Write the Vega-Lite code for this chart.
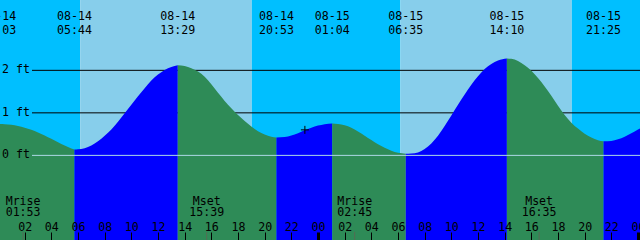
{
  "$schema": "https://vega.github.io/schema/vega-lite/v6.json",
  "width": 640,
  "height": 240,
  "padding": 0,
  "autosize": "none",
  "config": {
    "view": {"stroke": null},
    "axis": {"labelOverlap": false, "labelSeparation": 0},
    "text": {"font": "DejaVu Sans Mono", "fontSize": 11.6, "color": "black"}
  },
  "datasets": {
    "sun": [
      {"start": "2023-08-13T19:02:00", "end": "2023-08-14T06:10:00", "period": "night"},
      {"start": "2023-08-14T06:10:00", "end": "2023-08-14T19:02:00", "period": "day"},
      {"start": "2023-08-14T19:02:00", "end": "2023-08-15T06:11:00", "period": "night"},
      {"start": "2023-08-15T06:11:00", "end": "2023-08-15T19:02:00", "period": "day"},
      {"start": "2023-08-15T19:02:00", "end": "2023-08-16T06:11:00", "period": "night"}
    ],
    "levels": [
      {"level": 2, "label": "2 ft"},
      {"level": 1, "label": "1 ft"},
      {"level": 0, "label": "0 ft"}
    ],
    "tide": [
      {"t": "2023-08-14T00:03:00", "h": 0.74, "dir": "falling", "seg": "A"},
      {"t": "2023-08-14T00:30:00", "h": 0.735, "dir": "falling", "seg": "A"},
      {"t": "2023-08-14T01:00:00", "h": 0.72, "dir": "falling", "seg": "A"},
      {"t": "2023-08-14T01:30:00", "h": 0.69, "dir": "falling", "seg": "A"},
      {"t": "2023-08-14T02:00:00", "h": 0.65, "dir": "falling", "seg": "A"},
      {"t": "2023-08-14T02:30:00", "h": 0.60, "dir": "falling", "seg": "A"},
      {"t": "2023-08-14T03:00:00", "h": 0.54, "dir": "falling", "seg": "A"},
      {"t": "2023-08-14T03:30:00", "h": 0.47, "dir": "falling", "seg": "A"},
      {"t": "2023-08-14T04:00:00", "h": 0.39, "dir": "falling", "seg": "A"},
      {"t": "2023-08-14T04:30:00", "h": 0.31, "dir": "falling", "seg": "A"},
      {"t": "2023-08-14T05:00:00", "h": 0.23, "dir": "falling", "seg": "A"},
      {"t": "2023-08-14T05:30:00", "h": 0.16, "dir": "falling", "seg": "A"},
      {"t": "2023-08-14T05:44:00", "h": 0.14, "dir": "falling", "seg": "A"},
      {"t": "2023-08-14T05:44:00", "h": 0.14, "dir": "rising", "seg": "B"},
      {"t": "2023-08-14T06:00:00", "h": 0.145, "dir": "rising", "seg": "B"},
      {"t": "2023-08-14T06:30:00", "h": 0.17, "dir": "rising", "seg": "B"},
      {"t": "2023-08-14T07:00:00", "h": 0.23, "dir": "rising", "seg": "B"},
      {"t": "2023-08-14T07:30:00", "h": 0.33, "dir": "rising", "seg": "B"},
      {"t": "2023-08-14T08:00:00", "h": 0.46, "dir": "rising", "seg": "B"},
      {"t": "2023-08-14T08:30:00", "h": 0.61, "dir": "rising", "seg": "B"},
      {"t": "2023-08-14T09:00:00", "h": 0.79, "dir": "rising", "seg": "B"},
      {"t": "2023-08-14T09:30:00", "h": 0.99, "dir": "rising", "seg": "B"},
      {"t": "2023-08-14T10:00:00", "h": 1.19, "dir": "rising", "seg": "B"},
      {"t": "2023-08-14T10:30:00", "h": 1.39, "dir": "rising", "seg": "B"},
      {"t": "2023-08-14T11:00:00", "h": 1.58, "dir": "rising", "seg": "B"},
      {"t": "2023-08-14T11:30:00", "h": 1.76, "dir": "rising", "seg": "B"},
      {"t": "2023-08-14T12:00:00", "h": 1.90, "dir": "rising", "seg": "B"},
      {"t": "2023-08-14T12:30:00", "h": 2.01, "dir": "rising", "seg": "B"},
      {"t": "2023-08-14T13:00:00", "h": 2.08, "dir": "rising", "seg": "B"},
      {"t": "2023-08-14T13:29:00", "h": 2.12, "dir": "rising", "seg": "B"},
      {"t": "2023-08-14T13:29:00", "h": 2.12, "dir": "falling", "seg": "C"},
      {"t": "2023-08-14T14:00:00", "h": 2.10, "dir": "falling", "seg": "C"},
      {"t": "2023-08-14T14:30:00", "h": 2.05, "dir": "falling", "seg": "C"},
      {"t": "2023-08-14T15:00:00", "h": 1.97, "dir": "falling", "seg": "C"},
      {"t": "2023-08-14T15:30:00", "h": 1.85, "dir": "falling", "seg": "C"},
      {"t": "2023-08-14T16:00:00", "h": 1.67, "dir": "falling", "seg": "C"},
      {"t": "2023-08-14T16:30:00", "h": 1.47, "dir": "falling", "seg": "C"},
      {"t": "2023-08-14T17:00:00", "h": 1.28, "dir": "falling", "seg": "C"},
      {"t": "2023-08-14T17:30:00", "h": 1.11, "dir": "falling", "seg": "C"},
      {"t": "2023-08-14T18:00:00", "h": 0.95, "dir": "falling", "seg": "C"},
      {"t": "2023-08-14T18:30:00", "h": 0.81, "dir": "falling", "seg": "C"},
      {"t": "2023-08-14T19:00:00", "h": 0.68, "dir": "falling", "seg": "C"},
      {"t": "2023-08-14T19:30:00", "h": 0.57, "dir": "falling", "seg": "C"},
      {"t": "2023-08-14T20:00:00", "h": 0.49, "dir": "falling", "seg": "C"},
      {"t": "2023-08-14T20:30:00", "h": 0.44, "dir": "falling", "seg": "C"},
      {"t": "2023-08-14T20:53:00", "h": 0.42, "dir": "falling", "seg": "C"},
      {"t": "2023-08-14T20:53:00", "h": 0.42, "dir": "rising", "seg": "D"},
      {"t": "2023-08-14T21:30:00", "h": 0.43, "dir": "rising", "seg": "D"},
      {"t": "2023-08-14T22:00:00", "h": 0.47, "dir": "rising", "seg": "D"},
      {"t": "2023-08-14T22:30:00", "h": 0.52, "dir": "rising", "seg": "D"},
      {"t": "2023-08-14T23:00:00", "h": 0.59, "dir": "rising", "seg": "D"},
      {"t": "2023-08-14T23:30:00", "h": 0.65, "dir": "rising", "seg": "D"},
      {"t": "2023-08-15T00:00:00", "h": 0.70, "dir": "rising", "seg": "D"},
      {"t": "2023-08-15T00:30:00", "h": 0.735, "dir": "rising", "seg": "D"},
      {"t": "2023-08-15T01:04:00", "h": 0.75, "dir": "rising", "seg": "D"},
      {"t": "2023-08-15T01:04:00", "h": 0.75, "dir": "falling", "seg": "E"},
      {"t": "2023-08-15T01:30:00", "h": 0.74, "dir": "falling", "seg": "E"},
      {"t": "2023-08-15T02:00:00", "h": 0.71, "dir": "falling", "seg": "E"},
      {"t": "2023-08-15T02:30:00", "h": 0.65, "dir": "falling", "seg": "E"},
      {"t": "2023-08-15T03:00:00", "h": 0.56, "dir": "falling", "seg": "E"},
      {"t": "2023-08-15T03:30:00", "h": 0.46, "dir": "falling", "seg": "E"},
      {"t": "2023-08-15T04:00:00", "h": 0.36, "dir": "falling", "seg": "E"},
      {"t": "2023-08-15T04:30:00", "h": 0.26, "dir": "falling", "seg": "E"},
      {"t": "2023-08-15T05:00:00", "h": 0.18, "dir": "falling", "seg": "E"},
      {"t": "2023-08-15T05:30:00", "h": 0.11, "dir": "falling", "seg": "E"},
      {"t": "2023-08-15T06:00:00", "h": 0.06, "dir": "falling", "seg": "E"},
      {"t": "2023-08-15T06:35:00", "h": 0.04, "dir": "falling", "seg": "E"},
      {"t": "2023-08-15T06:35:00", "h": 0.04, "dir": "rising", "seg": "F"},
      {"t": "2023-08-15T07:00:00", "h": 0.045, "dir": "rising", "seg": "F"},
      {"t": "2023-08-15T07:30:00", "h": 0.07, "dir": "rising", "seg": "F"},
      {"t": "2023-08-15T08:00:00", "h": 0.15, "dir": "rising", "seg": "F"},
      {"t": "2023-08-15T08:30:00", "h": 0.28, "dir": "rising", "seg": "F"},
      {"t": "2023-08-15T09:00:00", "h": 0.46, "dir": "rising", "seg": "F"},
      {"t": "2023-08-15T09:30:00", "h": 0.69, "dir": "rising", "seg": "F"},
      {"t": "2023-08-15T10:00:00", "h": 0.94, "dir": "rising", "seg": "F"},
      {"t": "2023-08-15T10:30:00", "h": 1.19, "dir": "rising", "seg": "F"},
      {"t": "2023-08-15T11:00:00", "h": 1.43, "dir": "rising", "seg": "F"},
      {"t": "2023-08-15T11:30:00", "h": 1.66, "dir": "rising", "seg": "F"},
      {"t": "2023-08-15T12:00:00", "h": 1.86, "dir": "rising", "seg": "F"},
      {"t": "2023-08-15T12:30:00", "h": 2.03, "dir": "rising", "seg": "F"},
      {"t": "2023-08-15T13:00:00", "h": 2.15, "dir": "rising", "seg": "F"},
      {"t": "2023-08-15T13:30:00", "h": 2.23, "dir": "rising", "seg": "F"},
      {"t": "2023-08-15T14:10:00", "h": 2.28, "dir": "rising", "seg": "F"},
      {"t": "2023-08-15T14:10:00", "h": 2.28, "dir": "falling", "seg": "G"},
      {"t": "2023-08-15T14:30:00", "h": 2.27, "dir": "falling", "seg": "G"},
      {"t": "2023-08-15T15:00:00", "h": 2.22, "dir": "falling", "seg": "G"},
      {"t": "2023-08-15T15:30:00", "h": 2.12, "dir": "falling", "seg": "G"},
      {"t": "2023-08-15T16:00:00", "h": 1.99, "dir": "falling", "seg": "G"},
      {"t": "2023-08-15T16:30:00", "h": 1.82, "dir": "falling", "seg": "G"},
      {"t": "2023-08-15T17:00:00", "h": 1.62, "dir": "falling", "seg": "G"},
      {"t": "2023-08-15T17:30:00", "h": 1.40, "dir": "falling", "seg": "G"},
      {"t": "2023-08-15T18:00:00", "h": 1.17, "dir": "falling", "seg": "G"},
      {"t": "2023-08-15T18:30:00", "h": 0.95, "dir": "falling", "seg": "G"},
      {"t": "2023-08-15T19:00:00", "h": 0.77, "dir": "falling", "seg": "G"},
      {"t": "2023-08-15T19:30:00", "h": 0.63, "dir": "falling", "seg": "G"},
      {"t": "2023-08-15T20:00:00", "h": 0.51, "dir": "falling", "seg": "G"},
      {"t": "2023-08-15T20:30:00", "h": 0.42, "dir": "falling", "seg": "G"},
      {"t": "2023-08-15T21:00:00", "h": 0.355, "dir": "falling", "seg": "G"},
      {"t": "2023-08-15T21:25:00", "h": 0.33, "dir": "falling", "seg": "G"},
      {"t": "2023-08-15T21:25:00", "h": 0.33, "dir": "rising", "seg": "H"},
      {"t": "2023-08-15T22:00:00", "h": 0.34, "dir": "rising", "seg": "H"},
      {"t": "2023-08-15T22:30:00", "h": 0.38, "dir": "rising", "seg": "H"},
      {"t": "2023-08-15T23:00:00", "h": 0.44, "dir": "rising", "seg": "H"},
      {"t": "2023-08-15T23:30:00", "h": 0.52, "dir": "rising", "seg": "H"},
      {"t": "2023-08-16T00:00:00", "h": 0.61, "dir": "rising", "seg": "H"},
      {"t": "2023-08-16T00:30:00", "h": 0.69, "dir": "rising", "seg": "H"}
    ],
    "extremes": [
      {"t": "2023-08-14T00:03:00", "h": 0.74},
      {"t": "2023-08-14T05:44:00", "h": 0.14},
      {"t": "2023-08-14T13:29:00", "h": 2.12},
      {"t": "2023-08-14T20:53:00", "h": 0.42},
      {"t": "2023-08-15T01:04:00", "h": 0.75},
      {"t": "2023-08-15T06:35:00", "h": 0.04},
      {"t": "2023-08-15T14:10:00", "h": 2.28},
      {"t": "2023-08-15T21:25:00", "h": 0.33}
    ],
    "moon": [
      {"t": "2023-08-14T01:53:00", "ev": "Mrise"},
      {"t": "2023-08-14T15:39:00", "ev": "Mset"},
      {"t": "2023-08-15T02:45:00", "ev": "Mrise"},
      {"t": "2023-08-15T16:35:00", "ev": "Mset"}
    ],
    "now": [
      {"t": "2023-08-14T23:01:00", "h": 0.60}
    ]
  },
  "layer": [
    {
      "data": {"name": "sun"},
      "mark": {"type": "rect", "clip": true},
      "encoding": {
        "x": {
          "field": "start", "type": "temporal", "title": null,
          "scale": {"domain": [
            {"year": 2023, "month": 8, "date": 14, "hours": 0, "minutes": 9},
            {"year": 2023, "month": 8, "date": 16, "hours": 0, "minutes": 9}
          ]},
          "axis": {
            "orient": "top", "offset": -240, "domain": false, "grid": false,
            "ticks": true, "tickSize": 8, "tickColor": "black",
            "tickWidth": {"condition": {"test": "hours(datum.value) == 0", "value": 3}, "value": 1},
            "labelFont": "DejaVu Sans Mono", "labelFontSize": 11.6, "labelColor": "black",
            "labelPadding": 2, "labelBaseline": "alphabetic", "labelFlush": false, "labelOverlap": false,
            "format": "%H", "zindex": 1, "tickCount": 40,
            "values": [
              {"year": 2023, "month": 8, "date": 14, "hours": 0},
              {"year": 2023, "month": 8, "date": 14, "hours": 2},
              {"year": 2023, "month": 8, "date": 14, "hours": 4},
              {"year": 2023, "month": 8, "date": 14, "hours": 6},
              {"year": 2023, "month": 8, "date": 14, "hours": 8},
              {"year": 2023, "month": 8, "date": 14, "hours": 10},
              {"year": 2023, "month": 8, "date": 14, "hours": 12},
              {"year": 2023, "month": 8, "date": 14, "hours": 14},
              {"year": 2023, "month": 8, "date": 14, "hours": 16},
              {"year": 2023, "month": 8, "date": 14, "hours": 18},
              {"year": 2023, "month": 8, "date": 14, "hours": 20},
              {"year": 2023, "month": 8, "date": 14, "hours": 22},
              {"year": 2023, "month": 8, "date": 15, "hours": 0},
              {"year": 2023, "month": 8, "date": 15, "hours": 2},
              {"year": 2023, "month": 8, "date": 15, "hours": 4},
              {"year": 2023, "month": 8, "date": 15, "hours": 6},
              {"year": 2023, "month": 8, "date": 15, "hours": 8},
              {"year": 2023, "month": 8, "date": 15, "hours": 10},
              {"year": 2023, "month": 8, "date": 15, "hours": 12},
              {"year": 2023, "month": 8, "date": 15, "hours": 14},
              {"year": 2023, "month": 8, "date": 15, "hours": 16},
              {"year": 2023, "month": 8, "date": 15, "hours": 18},
              {"year": 2023, "month": 8, "date": 15, "hours": 20},
              {"year": 2023, "month": 8, "date": 15, "hours": 22},
              {"year": 2023, "month": 8, "date": 16, "hours": 0}
            ]
          }
        },
        "x2": {"field": "end"},
        "y": {"datum": 3.654, "scale": {"domain": [-1.99, 3.654], "nice": false, "zero": false}, "axis": null},
        "y2": {"datum": -1.99},
        "color": {
          "field": "period", "type": "nominal", "legend": null,
          "scale": {"domain": ["night", "day", "rising", "falling"], "range": ["#00BFFF", "#87CEEB", "#0000FF", "#2E8B57"]}
        }
      }
    },
    {
      "data": {"name": "levels"},
      "transform": [{"filter": "datum.level > 0"}],
      "mark": {"type": "rule", "color": "black", "strokeWidth": 1},
      "encoding": {
        "x": {"datum": {"year": 2023, "month": 8, "date": 14, "hours": 2, "minutes": 33}, "type": "temporal"},
        "x2": {"datum": {"year": 2023, "month": 8, "date": 16, "hours": 0, "minutes": 9}},
        "y": {"field": "level", "type": "quantitative"}
      }
    },
    {
      "data": {"name": "tide"},
      "mark": {"type": "area", "interpolate": "monotone", "clip": true},
      "encoding": {
        "x": {"field": "t", "type": "temporal"},
        "y": {"field": "h", "type": "quantitative"},
        "y2": {"datum": -1.99},
        "color": {"field": "dir", "type": "nominal"},
        "detail": {"field": "seg"}
      }
    },
    {
      "data": {"name": "levels"},
      "transform": [{"filter": "datum.level == 0"}],
      "mark": {"type": "rule", "color": "#ADD8E6", "strokeWidth": 1},
      "encoding": {
        "x": {"datum": {"year": 2023, "month": 8, "date": 14, "hours": 2, "minutes": 33}, "type": "temporal"},
        "x2": {"datum": {"year": 2023, "month": 8, "date": 16, "hours": 0, "minutes": 9}},
        "y": {"field": "level", "type": "quantitative"}
      }
    },
    {
      "mark": {"type": "rule", "color": "#FFFF00", "strokeWidth": 1},
      "encoding": {
        "x": {"datum": {"year": 2023, "month": 8, "date": 14, "hours": 2, "minutes": 33}, "type": "temporal"},
        "x2": {"datum": {"year": 2023, "month": 8, "date": 16, "hours": 0, "minutes": 9}},
        "y": {"datum": 0.82}
      }
    },
    {
      "data": {"name": "moon"},
      "mark": {"type": "rule", "color": "#556B55", "strokeWidth": 1},
      "encoding": {
        "x": {"field": "t", "type": "temporal"},
        "y": {"datum": -1.80},
        "y2": {"datum": -1.99}
      }
    },
    {
      "data": {"name": "levels"},
      "mark": {"type": "text", "align": "left", "baseline": "middle"},
      "encoding": {
        "x": {"datum": {"year": 2023, "month": 8, "date": 14, "hours": 0, "minutes": 18}, "type": "temporal"},
        "y": {"field": "level", "type": "quantitative"},
        "text": {"field": "label"}
      }
    },
    {
      "data": {"name": "extremes"},
      "mark": {"type": "text", "align": "center", "baseline": "middle"},
      "encoding": {
        "x": {"field": "t", "type": "temporal"},
        "y": {"datum": 3.25},
        "text": {"field": "t", "type": "temporal", "format": "%m-%d"}
      }
    },
    {
      "data": {"name": "extremes"},
      "mark": {"type": "text", "align": "center", "baseline": "middle"},
      "encoding": {
        "x": {"field": "t", "type": "temporal"},
        "y": {"datum": 2.92},
        "text": {"field": "t", "type": "temporal", "format": "%H:%M"}
      }
    },
    {
      "data": {"name": "moon"},
      "mark": {"type": "text", "align": "center", "baseline": "middle"},
      "encoding": {
        "x": {"field": "t", "type": "temporal"},
        "y": {"datum": -1.10},
        "text": {"field": "ev"}
      }
    },
    {
      "data": {"name": "moon"},
      "mark": {"type": "text", "align": "center", "baseline": "middle"},
      "encoding": {
        "x": {"field": "t", "type": "temporal"},
        "y": {"datum": -1.36},
        "text": {"field": "t", "type": "temporal", "format": "%H:%M"}
      }
    },
    {
      "mark": {"type": "text", "align": "center", "baseline": "middle", "text": "Honolulu, Honolulu Harbor, Oahu Island, Hawaii"},
      "encoding": {
        "x": {"datum": {"year": 2023, "month": 8, "date": 15, "hours": 0, "minutes": 9}, "type": "temporal"},
        "y": {"datum": 3.51}
      }
    },
    {
      "data": {"name": "now"},
      "mark": {"type": "point", "shape": "M-1,0L1,0M0,-1L0,1", "filled": false, "stroke": "black", "strokeWidth": 1, "size": 64, "opacity": 1},
      "encoding": {
        "x": {"field": "t", "type": "temporal"},
        "y": {"field": "h", "type": "quantitative"}
      }
    }
  ]
}
